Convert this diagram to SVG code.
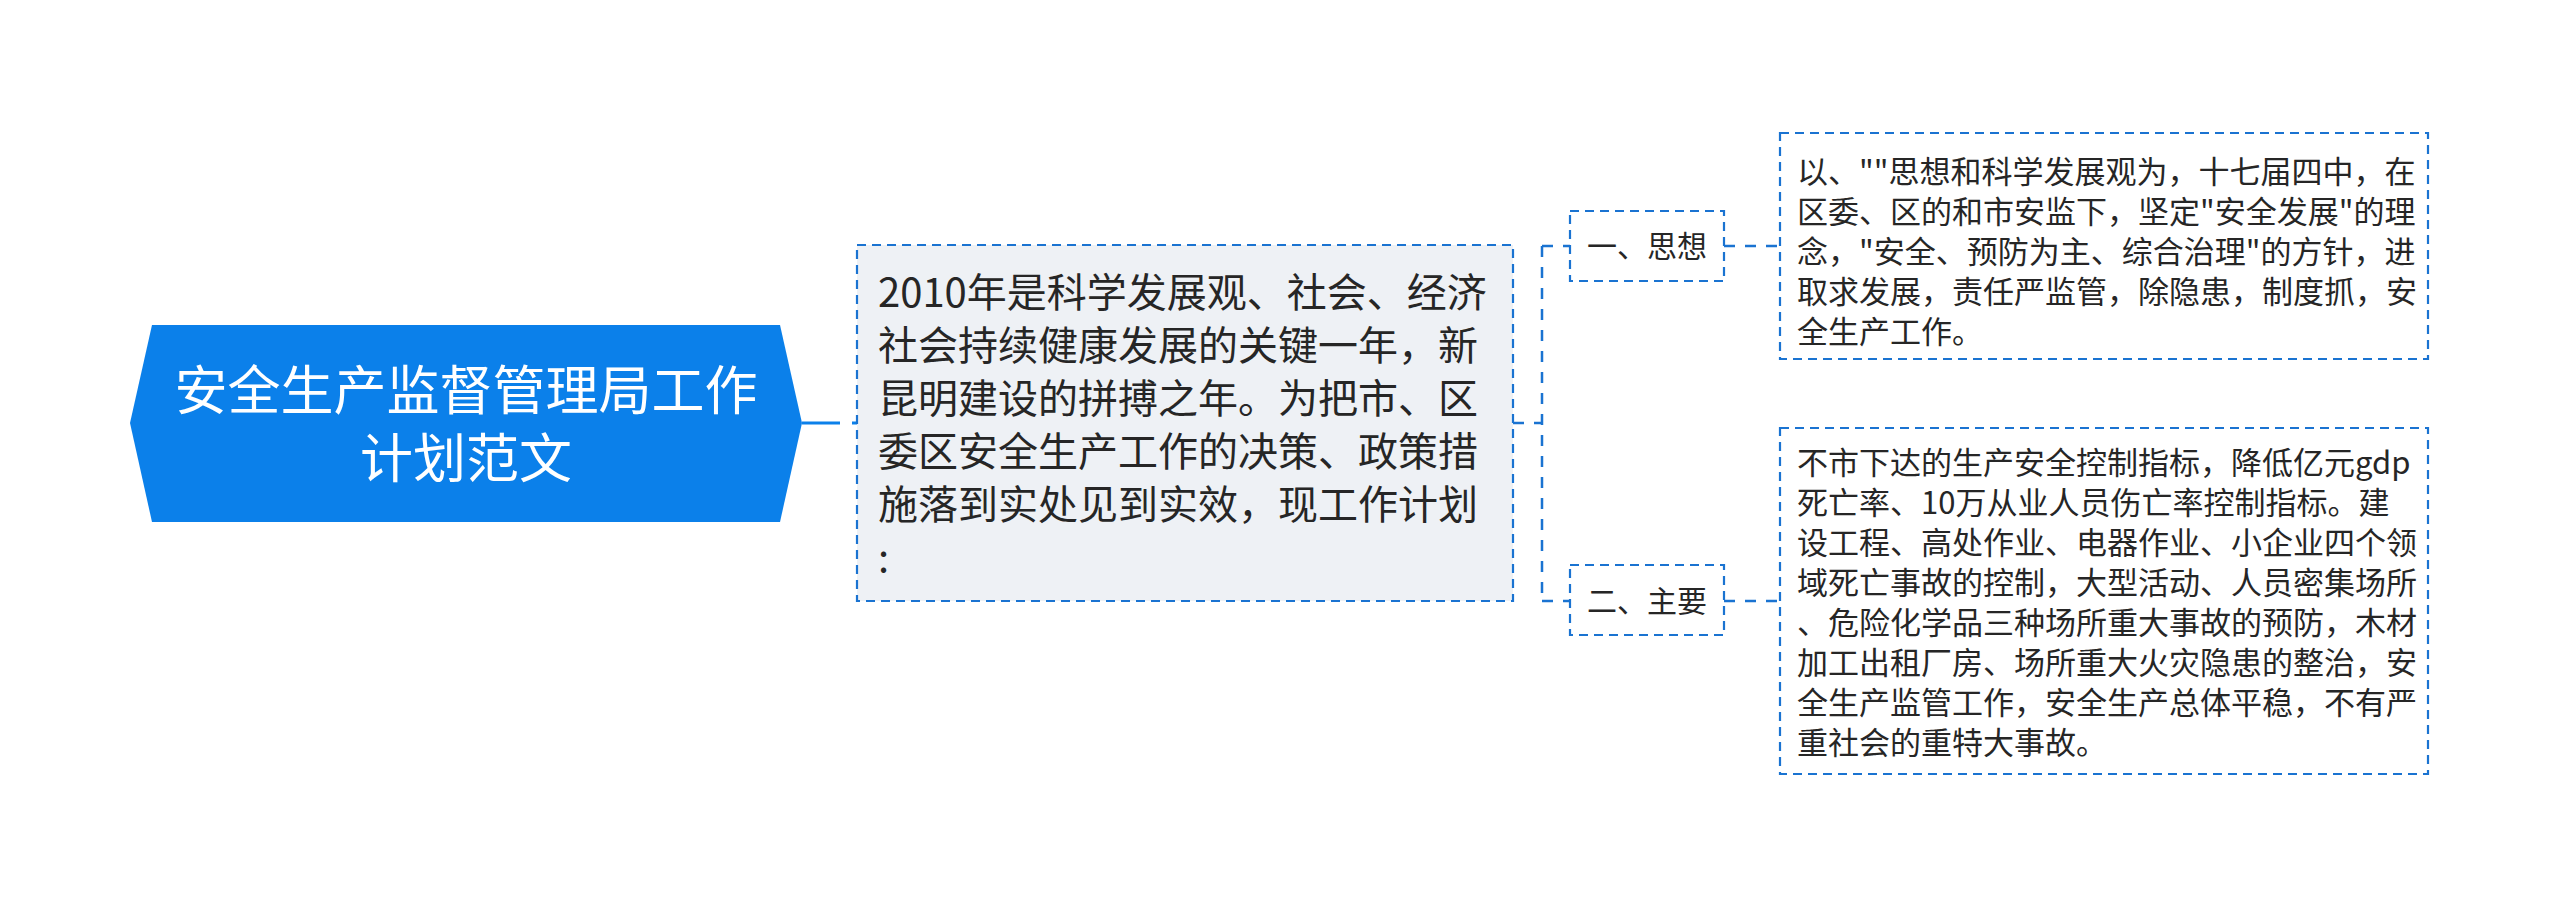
<svg xmlns="http://www.w3.org/2000/svg" width="2560" height="906" viewBox="0 0 2560 906">
<style>
.t{font-family:"Noto Sans CJK SC","Noto Sans",sans-serif;fill:#262626}
.root{font-family:"Noto Sans CJK SC","Noto Sans",sans-serif;fill:#ffffff;font-size:53px;text-anchor:middle}
.c{font-size:40px}
.b{font-size:30px;text-anchor:middle}
.d{font-size:31px}
.box{fill:#ffffff;stroke:#1a73d1;stroke-width:2.2;stroke-dasharray:9 6}
.main{fill:#eef1f5;stroke:#1a73d1;stroke-width:2.2;stroke-dasharray:9 6}
.ln{fill:none;stroke:#1a73d1;stroke-width:2.5;stroke-dasharray:11 10}
</style>
<rect width="2560" height="906" fill="#ffffff"/>
<g id="connectors">
<line x1="802" y1="423" x2="857" y2="423" stroke="#0b80ea" stroke-width="3" stroke-dasharray="38 12"/>
<line class="ln" x1="1513" y1="423" x2="1542" y2="423"/>
<line class="ln" x1="1542" y1="246" x2="1542" y2="601"/>
<line class="ln" x1="1542" y1="246" x2="1570" y2="246"/>
<line class="ln" x1="1542" y1="601" x2="1570" y2="601"/>
<line class="ln" x1="1724" y1="246" x2="1780" y2="246"/>
<line class="ln" x1="1724" y1="601" x2="1780" y2="601"/>
</g>
<g id="root">
<polygon points="130,423 152,325 780,325 802,423 780,522 152,522" fill="#0b80ea"/>
<text class="root" x="466" y="410">安全生产监督管理局工作</text>
<text class="root" x="466" y="478">计划范文</text>
</g>
<g id="main">
<rect class="main" x="857" y="245" width="656" height="356"/>
<text class="t c" x="878" y="307">2010年是科学发展观、社会、经济</text>
<text class="t c" x="878" y="360">社会持续健康发展的关键一年，新</text>
<text class="t c" x="878" y="413">昆明建设的拼搏之年。为把市、区</text>
<text class="t c" x="878" y="466">委区安全生产工作的决策、政策措</text>
<text class="t c" x="878" y="519">施落到实处见到实效，现工作计划</text>
<text class="t c" x="878" y="572">:</text>
</g>
<g id="b1">
<rect class="box" x="1570" y="211" width="154" height="70"/>
<text class="t b" x="1647" y="257">一、思想</text>
</g>
<g id="b2">
<rect class="box" x="1570" y="565" width="154" height="70"/>
<text class="t b" x="1647" y="612">二、主要</text>
</g>
<g id="d1">
<rect class="box" x="1780" y="133" width="648" height="226"/>
<text class="t d" x="1797" y="183">以、""思想和科学发展观为，十七届四中，在</text>
<text class="t d" x="1797" y="223">区委、区的和市安监下，坚定"安全发展"的理</text>
<text class="t d" x="1797" y="263">念，"安全、预防为主、综合治理"的方针，进</text>
<text class="t d" x="1797" y="303">取求发展，责任严监管，除隐患，制度抓，安</text>
<text class="t d" x="1797" y="343">全生产工作。</text>
</g>
<g id="d2">
<rect class="box" x="1780" y="428" width="648" height="346"/>
<text class="t d" x="1797" y="474">不市下达的生产安全控制指标，降低亿元gdp</text>
<text class="t d" x="1797" y="514">死亡率、10万从业人员伤亡率控制指标。建</text>
<text class="t d" x="1797" y="554">设工程、高处作业、电器作业、小企业四个领</text>
<text class="t d" x="1797" y="594">域死亡事故的控制，大型活动、人员密集场所</text>
<text class="t d" x="1797" y="634">、危险化学品三种场所重大事故的预防，木材</text>
<text class="t d" x="1797" y="674">加工出租厂房、场所重大火灾隐患的整治，安</text>
<text class="t d" x="1797" y="714">全生产监管工作，安全生产总体平稳，不有严</text>
<text class="t d" x="1797" y="754">重社会的重特大事故。</text>
</g>
</svg>
